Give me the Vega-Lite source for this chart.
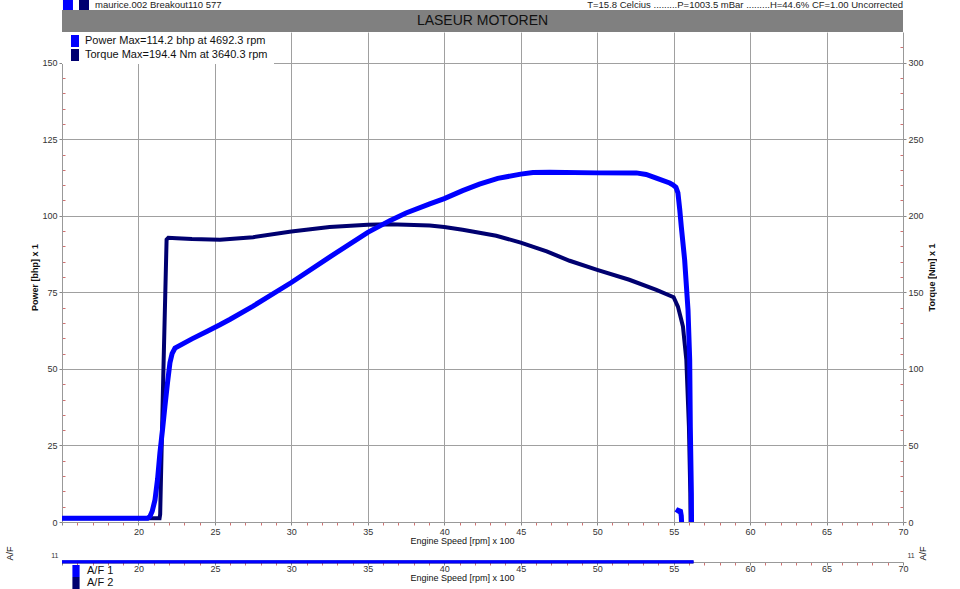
{
  "$schema": "https://vega.github.io/schema/vega-lite/v6.json",
  "background": "white",
  "padding": {"left": 5, "top": 0, "right": 0, "bottom": 0},
  "spacing": 0,
  "config": {
    "font": "Liberation Sans",
    "view": {"stroke": null},
    "axis": {"labelFont": "Liberation Sans", "titleFont": "Liberation Sans", "labelFontSize": 9, "labelColor": "#333", "titleColor": "#111", "domainColor": "#999", "gridColor": "#a0a0a0", "titleFontWeight": "normal", "titleFontSize": 9},
    "legend": {"labelFont": "Liberation Sans"}
  },
  "resolve": {"scale": {"color": "independent", "x": "independent", "y": "independent"}, "legend": {"color": "independent"}},
  "datasets": {
    "power": [
      {"rpm": 15, "p": 1.2, "seg": 1}, {"rpm": 20.6, "p": 1.2, "seg": 1}, {"rpm": 20.75, "p": 1.8, "seg": 1}, {"rpm": 20.9, "p": 3.5, "seg": 1}, {"rpm": 21.08, "p": 7.2, "seg": 1}, {"rpm": 21.25, "p": 14, "seg": 1}, {"rpm": 21.4, "p": 22.4, "seg": 1}, {"rpm": 21.57, "p": 30, "seg": 1}, {"rpm": 21.73, "p": 37.7, "seg": 1}, {"rpm": 21.9, "p": 45.5, "seg": 1}, {"rpm": 22.06, "p": 52, "seg": 1}, {"rpm": 22.2, "p": 55, "seg": 1}, {"rpm": 22.39, "p": 56.8, "seg": 1}, {"rpm": 23.5, "p": 59.8, "seg": 1}, {"rpm": 24.5, "p": 62.3, "seg": 1}, {"rpm": 25.33, "p": 64.4, "seg": 1}, {"rpm": 26, "p": 66.2, "seg": 1}, {"rpm": 27.5, "p": 70.5, "seg": 1}, {"rpm": 30, "p": 78.2, "seg": 1}, {"rpm": 32.5, "p": 86.5, "seg": 1}, {"rpm": 35, "p": 94.6, "seg": 1}, {"rpm": 36.44, "p": 98.4, "seg": 1}, {"rpm": 37.5, "p": 100.9, "seg": 1}, {"rpm": 39.05, "p": 103.9, "seg": 1}, {"rpm": 40, "p": 105.6, "seg": 1}, {"rpm": 41.2, "p": 108.2, "seg": 1}, {"rpm": 42.3, "p": 110.3, "seg": 1}, {"rpm": 43.5, "p": 112.2, "seg": 1}, {"rpm": 45, "p": 113.6, "seg": 1}, {"rpm": 45.8, "p": 114.1, "seg": 1}, {"rpm": 46.9, "p": 114.2, "seg": 1}, {"rpm": 50, "p": 114, "seg": 1}, {"rpm": 52.56, "p": 114, "seg": 1}, {"rpm": 53.2, "p": 113.5, "seg": 1}, {"rpm": 53.87, "p": 112.3, "seg": 1}, {"rpm": 54.74, "p": 110.7, "seg": 1}, {"rpm": 54.95, "p": 110.1, "seg": 1}, {"rpm": 55.15, "p": 109.3, "seg": 1}, {"rpm": 55.28, "p": 107.5, "seg": 1}, {"rpm": 55.4, "p": 102, "seg": 1}, {"rpm": 55.5, "p": 96.5, "seg": 1}, {"rpm": 55.72, "p": 85.6, "seg": 1}, {"rpm": 55.94, "p": 69.3, "seg": 1}, {"rpm": 56.05, "p": 52.9, "seg": 1}, {"rpm": 56.09, "p": 31.1, "seg": 1}, {"rpm": 56.16, "p": 9.4, "seg": 1}, {"rpm": 56.17, "p": 0, "seg": 1},
      {"rpm": 55.2, "p": 3.0, "seg": 2}, {"rpm": 55.3, "p": 3.8, "seg": 2}, {"rpm": 55.45, "p": 3.5, "seg": 2}, {"rpm": 55.5, "p": 2, "seg": 2}, {"rpm": 55.52, "p": 0, "seg": 2}
    ],
    "torque": [
      {"rpm": 15, "t": 2.4}, {"rpm": 21.38, "t": 2.4}, {"rpm": 21.42, "t": 5}, {"rpm": 21.62, "t": 94}, {"rpm": 21.84, "t": 184.5}, {"rpm": 21.95, "t": 185.6}, {"rpm": 22.5, "t": 185.3}, {"rpm": 23.5, "t": 184.8}, {"rpm": 25.33, "t": 184.3}, {"rpm": 27.5, "t": 186}, {"rpm": 30, "t": 189.7}, {"rpm": 32.5, "t": 192.6}, {"rpm": 35, "t": 194.1}, {"rpm": 36.4, "t": 194.4}, {"rpm": 37.5, "t": 194.2}, {"rpm": 39.05, "t": 193.6}, {"rpm": 40, "t": 192.7}, {"rpm": 41.2, "t": 190.8}, {"rpm": 43.4, "t": 186.9}, {"rpm": 45, "t": 182.5}, {"rpm": 46.7, "t": 176.7}, {"rpm": 48.2, "t": 170.6}, {"rpm": 50, "t": 164.7}, {"rpm": 52.1, "t": 158.2}, {"rpm": 53.87, "t": 151.6}, {"rpm": 55.0, "t": 146.8}, {"rpm": 55.28, "t": 140.7}, {"rpm": 55.45, "t": 134}, {"rpm": 55.61, "t": 127.6}, {"rpm": 55.83, "t": 105.9}, {"rpm": 56.0, "t": 62.3}, {"rpm": 56.09, "t": 18.8}, {"rpm": 56.11, "t": 0}
    ],
    "af1": [{"rpm": 15, "af": 10.05}, {"rpm": 56.3, "af": 10.05}],
    "af2": [{"rpm": 15, "af": 10}, {"rpm": 56.3, "af": 10}]
  },
  "vconcat": [
    {
      "width": 841, "height": 10,
      "layer": [
        {"data": {"values": [{"rpm": 15.39}]}, "mark": {"type": "point", "shape": "square", "filled": true, "size": 100, "color": "#0000FF", "opacity": 1}, "encoding": {"x": {"field": "rpm", "type": "quantitative", "scale": {"domain": [15, 70], "nice": false, "zero": false}, "axis": null}}},
        {"data": {"values": [{"rpm": 16.44}]}, "mark": {"type": "point", "shape": "square", "filled": true, "size": 100, "color": "#000070", "opacity": 1}, "encoding": {"x": {"field": "rpm", "type": "quantitative", "axis": null}}},
        {"data": {"values": [{"rpm": 17.16, "t": "maurice.002 Breakout110   577"}]}, "mark": {"type": "text", "align": "left", "baseline": "middle", "fontSize": 9.5, "color": "#222"}, "encoding": {"x": {"field": "rpm", "type": "quantitative", "axis": null}, "text": {"field": "t"}}},
        {"data": {"values": [{"rpm": 70, "t": "T=15.8 Celcius .........P=1003.5 mBar .........H=44.6% CF=1.00 Uncorrected"}]}, "mark": {"type": "text", "align": "right", "baseline": "middle", "fontSize": 9.5, "color": "#222"}, "encoding": {"x": {"field": "rpm", "type": "quantitative", "axis": null}, "text": {"field": "t"}}}
      ]
    },
    {
      "width": 841, "height": 22,
      "view": {"fill": "#808080", "stroke": null},
      "data": {"values": [{"t": "LASEUR MOTOREN"}]},
      "mark": {"type": "text", "fontSize": 14, "color": "#111", "baseline": "middle"},
      "encoding": {"text": {"field": "t"}}
    },
    {
      "width": 841, "height": 490,
      "layer": [
        {
          "data": {"values": []},
          "mark": {"type": "point", "filled": true, "opacity": 1},
          "encoding": {
            "color": {"field": "s", "type": "nominal",
              "scale": {"domain": ["Power", "Torque"], "range": ["#0000FF", "#000070"]},
              "legend": {"orient": "top-left", "offset": 0, "title": null, "fillColor": "white", "padding": 3,
                "symbolType": "M-0.67,-1H0.67V1H-0.67Z", "symbolSize": 144, "symbolStrokeWidth": 0, "symbolOffset": 4,
                "labelFontSize": 11, "labelColor": "#111", "labelOffset": 4, "rowPadding": 2, "labelLimit": 400,
                "labelExpr": "datum.label === 'Power' ? 'Power  Max=114.2 bhp at 4692.3 rpm' : 'Torque  Max=194.4 Nm at 3640.3 rpm'"}}
          }
        },
        {
          "data": {"name": "torque"},
          "mark": {"type": "line", "strokeWidth": 4, "interpolate": "linear", "color": "#000070"},
          "encoding": {
            "x": {"field": "rpm", "type": "quantitative", "scale": {"domain": [15, 70], "nice": false, "zero": false},
              "axis": {"title": "Engine Speed [rpm] x 100", "titleX": 400, "tickCount": 60, "values": [15,16,17,18,19,20,21,22,23,24,25,26,27,28,29,30,31,32,33,34,35,36,37,38,39,40,41,42,43,44,45,46,47,48,49,50,51,52,53,54,55,56,57,58,59,60,61,62,63,64,65,66,67,68,69,70],
                "labelExpr": "datum.value % 5 === 0 && datum.value >= 20 ? datum.label : ''", "labelOverlap": false, "labelFlush": false, "labelBound": false,
                "grid": true, "gridOpacity": {"condition": {"test": "datum.value % 5 === 0 && datum.value > 15 && datum.value < 70", "value": 1}, "value": 0},
                "tickSize": 3, "tickColor": {"condition": {"test": "datum.value % 5 === 0", "value": "#888888"}, "value": "#d07070"}, "labelPadding": 2, "titlePadding": 0}},
            "y": {"field": "t", "type": "quantitative", "scale": {"domain": [0, 320], "nice": false},
              "axis": {"orient": "right", "title": "Torque [Nm] x 1", "titleAngle": 270, "titleBaseline": "top", "titleFontWeight": "bold", "titlePadding": 4, "tickCount": 40,
                "values": [0,10,20,30,40,50,60,70,80,90,100,110,120,130,140,150,160,170,180,190,200,210,220,230,240,250,260,270,280,290,300,310],
                "labelExpr": "datum.value % 50 === 0 ? datum.label : ''", "labelOverlap": false, "labelFlush": false, "grid": false,
                "tickSize": {"condition": {"test": "datum.value % 50 === 0", "value": 3}, "value": -3},
                "tickColor": {"condition": {"test": "datum.value % 50 === 0", "value": "#888888"}, "value": "#d07070"}, "labelPadding": 2}}
          }
        },
        {
          "data": {"name": "power"},
          "mark": {"type": "line", "strokeWidth": 5, "interpolate": "linear", "color": "#0000FF"},
          "encoding": {
            "x": {"field": "rpm", "type": "quantitative"},
            "y": {"field": "p", "type": "quantitative", "scale": {"domain": [0, 160], "nice": false},
              "axis": {"orient": "left", "title": "Power [bhp] x 1", "titleFontWeight": "bold", "titlePadding": 2, "tickCount": 40,
                "values": [0,5,10,15,20,25,30,35,40,45,50,55,60,65,70,75,80,85,90,95,100,105,110,115,120,125,130,135,140,145,150,155],
                "labelExpr": "datum.value % 25 === 0 ? datum.label : ''", "labelOverlap": false, "labelFlush": false,
                "grid": true, "gridOpacity": {"condition": {"test": "datum.value % 25 === 0 && datum.value > 0", "value": 1}, "value": 0},
                "tickSize": {"condition": {"test": "datum.value % 25 === 0", "value": 3}, "value": -3},
                "tickColor": {"condition": {"test": "datum.value % 25 === 0", "value": "#888888"}, "value": "#d07070"}, "labelPadding": 2}},
            "detail": {"field": "seg", "type": "nominal"}
          }
        }
      ],
      "resolve": {"scale": {"y": "independent"}, "axis": {"y": "independent"}}
    },
    {
      "width": 841, "height": 7,
      "layer": [
        {
          "data": {"values": []},
          "mark": {"type": "point", "filled": true, "opacity": 1},
          "encoding": {
            "color": {"field": "s", "type": "nominal",
              "scale": {"domain": ["A/F 1", "A/F 2"], "range": ["#0000FF", "#000070"]},
              "legend": {"orient": "none", "legendX": 8, "legendY": 10, "title": null, "padding": 0,
                "symbolType": "M-0.6,-1H0.6V1H-0.6Z", "symbolSize": 144, "symbolStrokeWidth": 0, "symbolOffset": 0,
                "labelFontSize": 11, "labelColor": "#111", "labelOffset": 5, "rowPadding": 0}}
          }
        },
        {
          "data": {"name": "af2"},
          "mark": {"type": "line", "strokeWidth": 3, "color": "#000070"},
          "encoding": {
            "x": {"field": "rpm", "type": "quantitative", "scale": {"domain": [15, 70], "nice": false, "zero": false},
              "axis": {"title": "Engine Speed [rpm] x 100", "titleX": 400, "tickCount": 60, "values": [15,16,17,18,19,20,21,22,23,24,25,26,27,28,29,30,31,32,33,34,35,36,37,38,39,40,41,42,43,44,45,46,47,48,49,50,51,52,53,54,55,56,57,58,59,60,61,62,63,64,65,66,67,68,69,70],
                "labelExpr": "datum.value % 5 === 0 && datum.value >= 20 ? datum.label : ''", "labelOverlap": false, "labelFlush": false, "labelBound": false,
                "grid": false, "tickSize": 3, "tickColor": {"condition": {"test": "datum.value % 5 === 0", "value": "#888888"}, "value": "#d07070"}, "labelPadding": -1, "titlePadding": 0}},
            "y": {"field": "af", "type": "quantitative", "scale": {"domain": [10, 11], "nice": false, "zero": false},
              "axis": {"orient": "right", "title": "A/F", "titleAngle": 270, "titleBaseline": "top", "titlePadding": 4, "titleY": -2, "values": [11], "labelFontSize": 7, "tickSize": 0, "domain": false, "grid": false, "labelPadding": 4}}
          }
        },
        {
          "data": {"name": "af1"},
          "mark": {"type": "line", "strokeWidth": 3, "color": "#0000FF"},
          "encoding": {
            "x": {"field": "rpm", "type": "quantitative"},
            "y": {"field": "af", "type": "quantitative", "scale": {"domain": [10, 11], "nice": false, "zero": false},
              "axis": {"orient": "left", "title": "A/F", "titlePadding": 36, "titleY": -2, "values": [11], "labelFontSize": 7, "tickSize": 0, "domain": false, "grid": false, "labelPadding": 4}}
          }
        }
      ],
      "resolve": {"scale": {"y": "independent"}, "axis": {"y": "independent"}}
    }
  ]
}
